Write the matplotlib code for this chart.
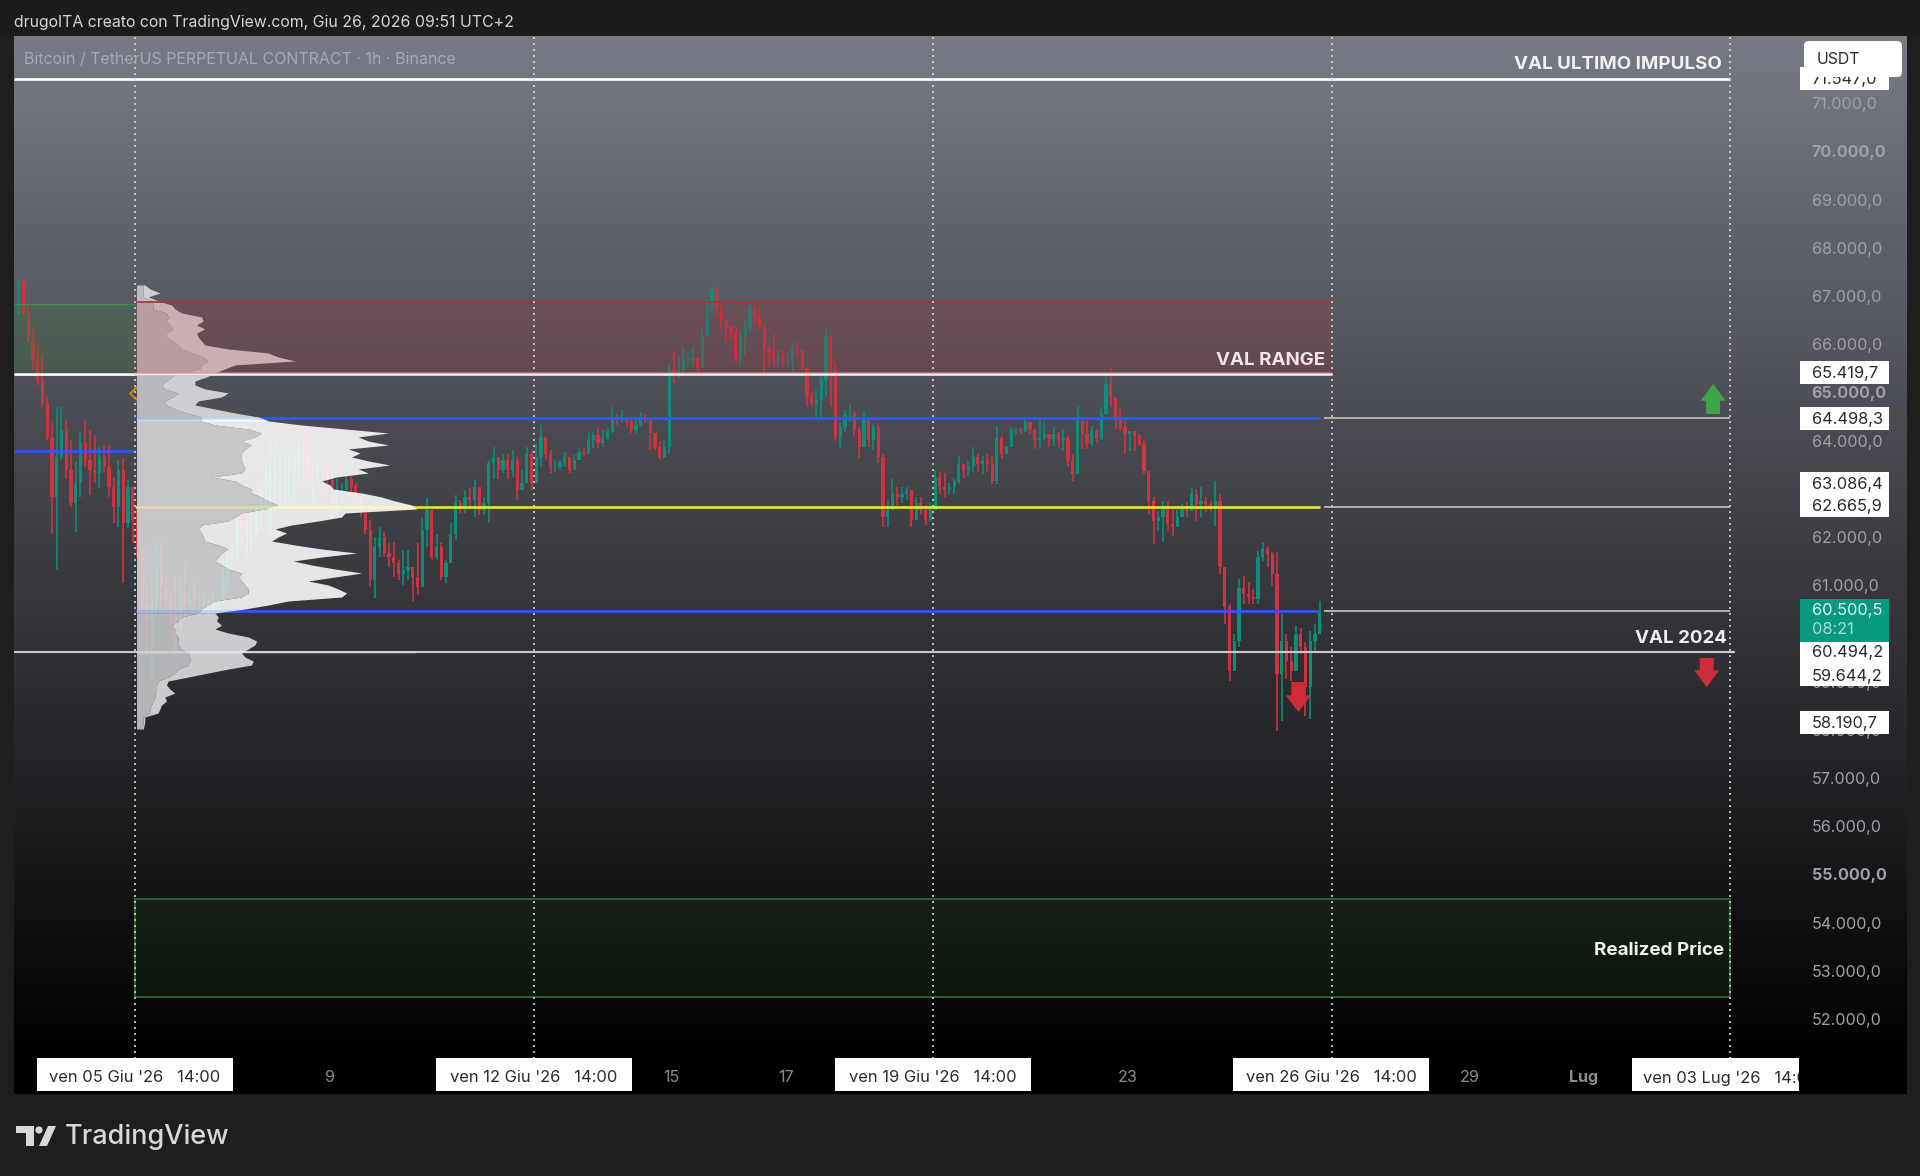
import numpy as np
import matplotlib
matplotlib.use("Agg")
import matplotlib.pyplot as plt
from matplotlib.colors import LinearSegmentedColormap
from matplotlib.patches import FancyBboxPatch, Polygon, Rectangle, Circle
from matplotlib.transforms import ScaledTranslation

plt.rcParams["font.family"] = ["Inter", "Roboto", "DejaVu Sans"]

# %% BTCUSDT candles, two hours per bar, first bar at hour -49 from Jun 5 14:00
candle_high = [
    67440, 67340, 66920, 66370, 66020, 65810, 64950, 64400, 64740, 64740, 64470, 64050, 63600, 64220, 64470, 64260,
    64150, 63910, 63950, 63950, 63290, 63640, 63670, 63220, 62910, 62670, 61560, 61010, 61840, 61980, 61910, 61350,
    60940, 61210, 61210, 61490, 61150, 61150, 60940, 60940, 60730, 60940, 60870, 61420, 61770, 61910, 62460, 62870,
    62600, 62600, 62740, 63150, 63570, 64120, 64120, 63770, 63700, 63840, 63840, 64190, 64190, 64190, 64190, 63640,
    63640, 63430, 63320, 63250, 63150, 63320, 63320, 63150, 62810, 62530, 62390, 62040, 62250, 62150, 61910, 61940,
    61560, 61770, 61770, 61420, 61910, 62430, 62840, 62600, 62110, 61940, 61560, 62320, 62910, 62810, 63010, 63050,
    63220, 63050, 62870, 63640, 63910, 63640, 63770, 63770, 63840, 63700, 63430, 63910, 63840, 63980, 64360, 64090,
    63840, 63640, 63640, 63810, 63640, 63740, 63880, 63880, 64190, 64220, 64330, 64260, 64290, 64740, 64600, 64670,
    64530, 64470, 64530, 64640, 64600, 64470, 64190, 64020, 64050, 65640, 65880, 65780, 65990, 65880, 65990, 65780,
    66330, 66960, 67270, 67230, 66890, 66540, 66440, 66400, 66260, 66540, 66960, 66850, 66820, 66440, 66020, 66260,
    65920, 65920, 65850, 66090, 66060, 65920, 65570, 65050, 65090, 65370, 66400, 66160, 65640, 64430, 64670, 64780,
    64670, 64330, 64640, 64500, 64400, 64400, 63770, 62810, 63250, 63080, 63080, 63080, 62940, 62870, 62870, 62700,
    62740, 63430, 63390, 63360, 63150, 63240, 63720, 63550, 63620, 63900, 63760, 63720, 63760, 63720, 64350, 64140,
    63930, 64310, 64300, 64300, 64520, 64310, 64240, 64450, 64420, 64140, 64330, 64210, 64280, 64140, 63760, 64760,
    64450, 64450, 64350, 64280, 64730, 65420, 65560, 64800, 64690, 64450, 64210, 64240, 64170, 64040, 63340, 62860,
    62580, 62790, 62790, 62650, 62620, 62720, 62760, 63070, 63030, 63070, 62860, 62790, 63200, 62930, 61410, 60650,
    60020, 61160, 61230, 61100, 60960, 61750, 61930, 61860, 61720, 61720, 60440, 60020, 59750, 60200, 60160, 59850,
    60090, 60230, 60720,
]
candle_low = [
    66640, 66640, 66060, 65500, 65190, 64740, 64050, 62110, 61350, 63640, 63250, 62670, 62150, 62870, 63500, 62910,
    63150, 63050, 63360, 62870, 62320, 62250, 61080, 62220, 61910, 61630, 59970, 59620, 59070, 60380, 60590, 60520,
    60250, 59620, 60110, 60320, 60380, 60450, 60380, 60520, 60380, 60450, 60590, 60660, 61010, 61350, 61490, 61840,
    61630, 61700, 62040, 62180, 62600, 62110, 62600, 62600, 62740, 62870, 62810, 63150, 63150, 63080, 62740, 63150,
    63010, 62940, 62430, 62430, 62740, 63010, 62980, 62740, 62460, 62110, 61010, 60770, 61630, 61630, 61420, 61210,
    61150, 61040, 61150, 60700, 60830, 61420, 61840, 61560, 61560, 61150, 61080, 61490, 61980, 62530, 62530, 62670,
    62460, 62490, 62490, 62320, 63250, 63250, 63360, 63250, 63290, 62810, 63010, 63150, 63010, 63150, 63500, 63640,
    63360, 63390, 63430, 63500, 63370, 63460, 63670, 63700, 63840, 63880, 63880, 63910, 64050, 64190, 64360, 64400,
    64330, 64190, 64190, 64330, 64400, 63840, 63840, 63650, 63670, 63770, 65230, 65330, 65430, 65570, 65570, 65470,
    65640, 66200, 66680, 66640, 66330, 66090, 66130, 65640, 65610, 65810, 66300, 66440, 66330, 65370, 65570, 65570,
    65570, 65570, 65570, 65470, 65750, 65500, 64740, 64740, 64530, 64530, 64950, 64740, 64020, 63880, 64220, 64430,
    64120, 63670, 63980, 63910, 63840, 63570, 62250, 62250, 62600, 62700, 62740, 62810, 62250, 62490, 62490, 62290,
    62360, 62870, 62940, 62870, 62910, 62930, 63140, 63270, 63310, 63380, 63380, 63340, 63380, 63140, 63140, 63655,
    63760, 63900, 64170, 64170, 64210, 64170, 63860, 63900, 64040, 63900, 63930, 63900, 63830, 63480, 63200, 63830,
    63860, 63860, 63900, 63990, 64040, 64690, 64730, 64280, 64240, 63760, 63830, 63830, 63930, 63340, 62520, 61890,
    62170, 61930, 62170, 62060, 62240, 62450, 62450, 62580, 62380, 62450, 62550, 62550, 62270, 61270, 60230, 59060,
    59260, 59750, 60650, 60650, 60650, 60650, 61550, 61410, 61030, 58020, 58225, 59090, 59060, 59260, 59610, 58330,
    58260, 59640, 60230,
]
candle_close = [
    67370, 66680, 66090, 65710, 65300, 64810, 64090, 62870, 63700, 64260, 63430, 62740, 63150, 63980, 63640, 63430,
    63360, 63700, 63500, 63080, 62670, 63430, 62320, 63080, 62390, 61840, 60660, 60320, 60660, 61350, 61010, 60800,
    60450, 60110, 60940, 60660, 60940, 60660, 60660, 60730, 60590, 60730, 60770, 61210, 61630, 61840, 62320, 62250,
    62110, 62110, 62600, 63010, 63150, 63290, 63430, 63430, 63500, 63570, 63640, 63840, 63700, 63430, 63360, 63500,
    63430, 63220, 62740, 63010, 63010, 63250, 63080, 62870, 62530, 62180, 61150, 61840, 62040, 61700, 61630, 61490,
    61280, 61350, 61420, 61210, 61010, 62180, 62600, 61630, 61840, 61210, 61490, 62110, 62740, 62670, 62870, 62810,
    63080, 62600, 62740, 63570, 63700, 63430, 63640, 63430, 63640, 63010, 63150, 63770, 63150, 63700, 64120, 63770,
    63500, 63500, 63570, 63700, 63430, 63640, 63810, 63770, 64050, 64150, 63980, 64090, 64220, 64530, 64500, 64530,
    64430, 64260, 64360, 64530, 64500, 64190, 63910, 63700, 63910, 65500, 65430, 65500, 65710, 65710, 65750, 65540,
    66200, 66820, 67160, 66750, 66540, 66400, 66260, 65710, 66200, 66400, 66820, 66610, 66400, 65920, 65850, 65710,
    65780, 65710, 65710, 65950, 65920, 65540, 64950, 64810, 64880, 65300, 66200, 65500, 64120, 64330, 64600, 64600,
    64260, 63910, 64470, 64050, 64330, 63700, 62460, 62600, 62940, 62870, 62940, 63010, 62390, 62740, 62600, 62390,
    62600, 63290, 63080, 63010, 63080, 63200, 63550, 63410, 63520, 63690, 63550, 63620, 63550, 63200, 64100, 63760,
    63900, 64240, 64260, 64230, 64420, 64280, 64040, 64100, 64170, 64070, 64170, 64040, 64100, 63620, 63340, 64450,
    64170, 63970, 64240, 64070, 64590, 65210, 64935, 64520, 64310, 64170, 64240, 64140, 63970, 63410, 62790, 62380,
    62450, 62650, 62310, 62240, 62450, 62650, 62580, 62930, 62720, 62790, 62720, 62690, 62790, 61410, 60580, 59260,
    59890, 60990, 60850, 60790, 60750, 61620, 61790, 61680, 61270, 59190, 59890, 59470, 59260, 60020, 59750, 58920,
    59890, 60020, 60500.5,
]
candle_first_open = 66640
candle_first_hour = -49
candle_step = 2

# %% volume profile anchored on Jun 5 14:00, price rows 83 USDT apart
profile_top_row = 67267
profile_row_size = 83
profile_total = [
    25, 40, 70, 35, 65, 105, 115, 135, 195, 200, 180, 205, 180, 185, 195, 205, 275, 395, 425, 475, 295, 265, 235, 210,
    175, 175, 205, 275, 255, 185, 175, 235, 295, 365, 395, 495, 625, 755, 665, 695, 755, 635, 670, 645, 695, 760, 665,
    695, 600, 555, 580, 590, 675, 735, 775, 825, 840, 625, 615, 545, 465, 415, 450, 425, 405, 475, 555, 660, 555, 470,
    525, 595, 675, 595, 515, 575, 605, 630, 615, 455, 395, 325, 235, 245, 240, 255, 235, 275, 335, 360, 355, 335, 315,
    325, 350, 345, 275, 215, 155, 95, 90, 100, 115, 85, 90, 75, 70, 65, 25, 25, 23, 20,
]
profile_inner = [
    20, 20, 20, 20, 50, 50, 50, 90, 95, 90, 100, 110, 90, 90, 110, 125, 135, 170, 200, 215, 195, 190, 130, 105, 90, 75,
    85, 125, 110, 85, 90, 115, 150, 195, 195, 235, 335, 375, 355, 315, 345, 325, 315, 315, 315, 320, 325, 315, 225, 295,
    315, 345, 345, 375, 395, 425, 385, 315, 295, 275, 195, 185, 195, 200, 205, 245, 275, 255, 245, 235, 255, 275, 315,
    305, 315, 325, 335, 335, 315, 235, 215, 195, 185, 135, 125, 105, 115, 115, 125, 125, 125, 135, 155, 160, 160, 155,
    125, 115, 95, 65, 60, 60, 55, 55, 50, 45, 40, 40, 20, 20, 20, 15,
]

# %% levels
val_last_impulse = 71547
range_high = 66909
range_low = 65419.7
value_high = 64498.3
poc_level = 62665.9
value_low = 60494.2
val_2024 = 59644.2
prior_value_line = 63826
prior_box_high = 66881
realized_high = 54520
realized_low = 52498

y_ticks = [71000, 70000, 69000, 68000, 67000, 66000, 65000, 64000, 63000, 62000, 61000, 60000, 59000, 58000, 57000,
           56000, 55000, 54000, 53000, 52000]
bold_ticks = [70000, 65000, 55000]
x_tick_hours = [82, 130, 226, 274, 418, 466, 562, 610]
x_tick_labels = ["9", "11", "15", "17", "23", "25", "29", "Lug"]
week_hours = [0, 168, 336, 504, 672]
week_labels = ["ven 05 Giu '26   14:00", "ven 12 Giu '26   14:00", "ven 19 Giu '26   14:00", "ven 26 Giu '26   14:00",
               "ven 03 Lug '26   14:00"]

tag_values = [65419.7, 64498.3, 63086.4, 62665.9, 60494.2, 59644.2, 58190.7]
tag_shift = [-1.3, -0.4, -3.2, -1.0, 40.3, 22.6, -0.4]
last_price = 60500.5
countdown = "08:21"

up_color = "#0e8d78"
down_color = "#d1323f"


def it_price(v):
    return f"{v:,.1f}".replace(",", " ").replace(".", ",").replace(" ", ".")


# %% axes: full chart pane, hours on x and price on y
fig = plt.figure(figsize=(19.2, 11.76), dpi=100, facecolor="#1e1e1e")
left, right, top, bottom = 14, 1906.6, 36, 1094
ax = fig.add_axes([left / 1920, 1 - bottom / 1176, (right - left) / 1920, (bottom - top) / 1176])
ax.set_xlim(-51, 746.2)
ax.set_ylim(50482, 72432)
for s in ax.spines.values():
    s.set_visible(False)

# background fades from grey to black
grad = LinearSegmentedColormap.from_list("pane", [(0, "#787a85"), (0.968, "#000000"), (1, "#000000")])
ax.imshow(np.linspace(0, 1, 512).reshape(-1, 1), extent=(-51, 746.2, 50482, 72432), origin="upper",
          aspect="auto", cmap=grad, zorder=0)

# candles
high = np.array(candle_high, dtype=float)
low = np.array(candle_low, dtype=float)
close = np.array(candle_close, dtype=float)
opens = np.r_[candle_first_open, close[:-1]]
hours = candle_first_hour + candle_step * np.arange(len(close))
colors = np.where(close >= opens, up_color, down_color)
ax.vlines(hours, low, high, colors=colors, linewidth=1.2, zorder=2)
ax.bar(hours, np.abs(close - opens), bottom=np.minimum(opens, close), width=1.35, color=colors, linewidth=0, zorder=2)

# horizontal levels
ax.hlines(val_last_impulse, -51, 672, color="#ffffff", linewidth=1.9, zorder=3)
ax.hlines(range_low, -51, 504, color="#ffffff", linewidth=2.0, zorder=3)
ax.hlines(value_high, 0, 499, color="#2a5cf0", linewidth=1.9, zorder=3)
ax.hlines(prior_value_line, -51, 0, color="#2a5cf0", linewidth=1.9, zorder=3)
ax.hlines(poc_level, 0, 499, color="#e8e43a", linewidth=1.9, zorder=3)
ax.hlines(value_low, 0, 499, color="#2a5cf0", linewidth=1.9, zorder=3)
ax.hlines(val_2024, -51, 674, color="#c9c9c9", linewidth=1.5, zorder=3)
for lvl in (value_high, poc_level, value_low):
    ax.hlines(lvl, 501, 672, color="#c4c4c4", linewidth=1.2, zorder=3)

# volume profile sits over candles and lines
rows = profile_top_row - profile_row_size * np.arange(len(profile_total))
scale = 118 / max(profile_total)
total = np.array(profile_total) * scale + 0.6
inner = np.array(profile_inner) * scale + 0.6
zones = [
    (rows >= value_high - profile_row_size, "#e1e2e4", "#c8c9cb"),
    ((rows <= value_high + profile_row_size) & (rows >= value_low - profile_row_size), "#ffffff", "#d9d9db"),
    (rows <= value_low, "#e1e2e4", "#c8c9cb"),
]
for mask, outer_col, inner_col in zones:
    ax.fill_betweenx(rows, inner, total, where=mask, color=outer_col, alpha=0.88, linewidth=0, zorder=4)
    ax.fill_betweenx(rows, 0.6, inner, where=mask, color=inner_col, alpha=0.88, linewidth=0, zorder=4)

# the level lines still show through the profile
for lvl, col in ((value_high, "#2a5cf0"), (poc_level, "#e8e43a"), (value_low, "#2a5cf0"), (val_2024, "#ffffff")):
    ax.hlines(lvl, 0.6, 118, color=col, linewidth=1.9, alpha=0.2, zorder=4.5)

# shaded zones
ax.add_patch(Rectangle((0, range_low), 504, range_high - range_low, facecolor="#b22833", alpha=0.2, linewidth=0,
                       zorder=5))
ax.hlines(range_high, 0, 504, color="#a8323c", linewidth=1.2, zorder=5)
ax.hlines(range_low, 0, 504, color="#e8848c", linewidth=2.8, alpha=0.55, zorder=5)
ax.hlines(range_low, 0, 504, color="#ffffff", linewidth=1.0, alpha=0.9, zorder=5)
ax.add_patch(Rectangle((-51, range_low), 51, prior_box_high - range_low, facecolor="#2e7d32", alpha=0.2, linewidth=0,
                       zorder=5))
ax.hlines(prior_box_high, -51, 0, color="#3f8f45", linewidth=1.0, zorder=5)
ax.add_patch(Rectangle((0, realized_low), 672, realized_high - realized_low, facecolor="#2e7d32", alpha=0.13,
                       linewidth=0, zorder=1))
ax.add_patch(Rectangle((0, realized_low), 672, realized_high - realized_low, facecolor="none", edgecolor="#2f7035",
                       linewidth=1.2, zorder=3))

# week separators
for h in week_hours:
    ax.plot([h, h], [51200, 72432], color="#d6d6d6", linewidth=1.2, linestyle=(0, (1.2, 2.4)), zorder=6)

# direction arrows
arrows = [(664.7, 64590, 65212, "#3fa648"), (662, 59527, 58925, "#cf2c3a"), (490, 59029, 58406, "#cf2c3a")]
for ax_h, p0, p1, col in arrows:
    ax.annotate("", xy=(ax_h, p1), xytext=(ax_h, p0), zorder=7,
                arrowprops=dict(width=10, headwidth=18, headlength=12, shrink=0, facecolor=col, edgecolor="none"))

# ticks live inside the pane on the right and bottom
ax.yaxis.tick_right()
ax.set_yticks(y_ticks, labels=[it_price(v) for v in y_ticks])
ax.tick_params(axis="y", length=0, pad=-68.4, labelsize=11.6, labelcolor="#a0a1a6")
lift = ScaledTranslation(0, 0.4 / 100, fig.dpi_scale_trans)
for v, lab in zip(y_ticks, ax.get_yticklabels()):
    lab.set_ha("left")
    lab.set_va("center")
    lab.set_transform(lab.get_transform() + lift)
    if v in bold_ticks:
        lab.set_fontweight("bold")
ax.set_xticks(x_tick_hours, labels=x_tick_labels)
ax.tick_params(axis="x", length=0, pad=-17, labelsize=11.6, labelcolor="#8b8b90")
ax.get_xticklabels()[-1].set_fontweight("bold")

# %% overlay in figure pixels for header, price tags, time tags and the logo
ui = fig.add_axes([0, 0, 1, 1], facecolor="none", zorder=10)
ui.set_xlim(0, 1920)
ui.set_ylim(1176, 0)
ui.axis("off")
ui.add_patch(Rectangle((0, 0), 1920, 36, facecolor="#1b1b1b", linewidth=0))

ui.text(14, 22.5, "drugoITA creato con TradingView.com, Giu 26, 2026 09:51 UTC+2", color="#d6d6d6", fontsize=11.4,
        va="center")
ui.text(24, 59, "Bitcoin / TetherUS PERPETUAL CONTRACT · 1h · Binance", color="#a6a8b4", fontsize=11.5, va="center")

ui.text(1722, 64.5, "VAL ULTIMO IMPULSO", color="#f2f2f4", fontsize=13.5, fontweight="bold", ha="right", va="center")
ui.text(1325, 360.5, "VAL RANGE", color="#f0e6e6", fontsize=13.5, fontweight="bold", ha="right", va="center")
ui.text(1726.5, 638.5, "VAL 2024", color="#f0f0f0", fontsize=13.5, fontweight="bold", ha="right", va="center")
ui.text(1724, 950.5, "Realized Price", color="#f0f0f0", fontsize=13.5, fontweight="bold", ha="right", va="center")

# orange anchor chevron on the profile
ui.plot([137, 130, 137], [387, 393.5, 400], color="#e09000", linewidth=1.2)

# price tags
tag_x0, tag_x1 = 1800, 1889
tag_text_x = 1811.7
y_px = lambda p: 374 + (65419.7 - p) * 0.0482
ui.add_patch(Rectangle((tag_x0, y_px(val_last_impulse) - 11.5), tag_x1 - tag_x0, 23, facecolor="white", linewidth=0,
                       zorder=0.5))
ui.text(tag_text_x, y_px(val_last_impulse) + 1.2, it_price(val_last_impulse), color="#2a2a2e", fontsize=11.8,
        va="center", zorder=0.6)
for v, dy in zip(tag_values, tag_shift):
    yc = y_px(v) + dy
    ui.add_patch(Rectangle((tag_x0, yc - 11.5), tag_x1 - tag_x0, 23, facecolor="white", linewidth=0))
    ui.text(tag_text_x, yc + 1.2, it_price(v), color="#2a2a2e", fontsize=11.8, va="center")
ui.add_patch(Rectangle((tag_x0, 599.3), tag_x1 - tag_x0, 42.4, facecolor="#089981", linewidth=0))
ui.text(tag_text_x, 611, it_price(last_price), color="#e3f4f0", fontsize=11.8, va="center")
ui.text(tag_text_x, 630, countdown, color="#a9dcd0", fontsize=11.8, va="center")

# currency box
ui.add_patch(FancyBboxPatch((1807, 44), 92, 30, boxstyle="round,pad=3,rounding_size=5", facecolor="white",
                            linewidth=0, zorder=1))
ui.text(1816.7, 60, "USDT", color="#2a2a2e", fontsize=11.4, va="center")

# time tags
for h, label in zip(week_hours, week_labels):
    xc = 135 + 2.374 * h
    x0, x1 = xc - 98, min(xc + 98, 1799)
    ui.add_patch(Rectangle((x0, 1058), x1 - x0, 32.5, facecolor="white", linewidth=0))
    t = ui.text(xc, 1078, label, color="#2a2a2e", fontsize=11.9, ha="center", va="center", clip_on=True)
    t.set_clip_path(Rectangle((x0, 1058), x1 - x0, 32.5, transform=ui.transData))

# logo
for patch in (
    Polygon([(16, 1126), (34, 1126), (34, 1146), (26, 1146), (26, 1133), (16, 1133)], facecolor="#d8d8d8", linewidth=0),
    Circle((39, 1130), 3.6, facecolor="#d8d8d8", linewidth=0),
    Polygon([(48, 1126), (56, 1126), (47, 1146), (39, 1146)], facecolor="#d8d8d8", linewidth=0),
):
    ui.add_patch(patch)
ui.text(65, 1137, "TradingView", color="#d8d8d8", fontsize=19.5, fontweight="medium", va="center")

fig.savefig("out.png", dpi=100, facecolor=fig.get_facecolor())
